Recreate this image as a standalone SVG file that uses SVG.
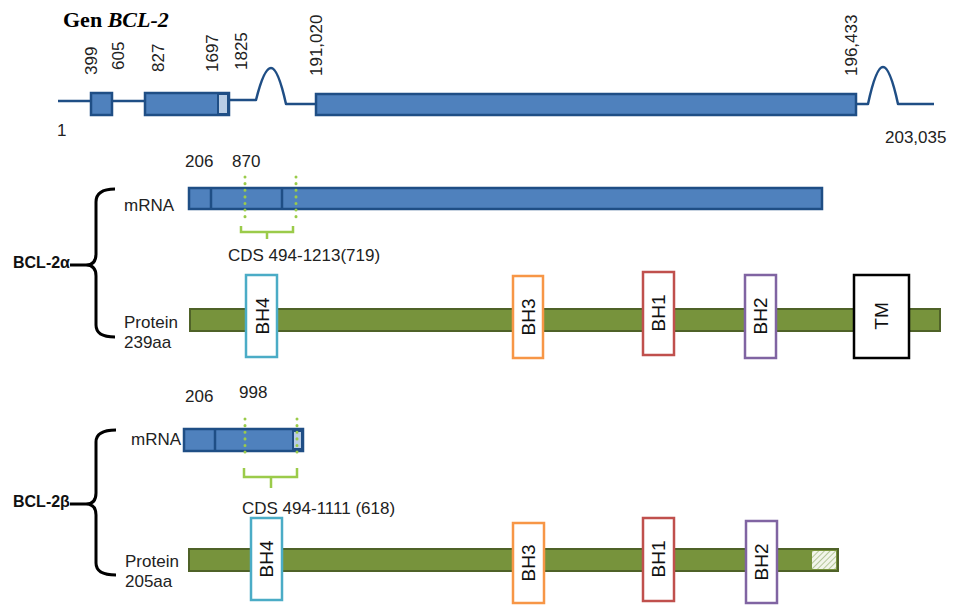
<svg xmlns="http://www.w3.org/2000/svg" width="954" height="605" viewBox="0 0 954 605">
<defs>
<style>
.t{font-family:"Liberation Sans",Arial,sans-serif;font-size:17px;fill:#222}
.title{font-family:"Liberation Serif","Times New Roman",serif;font-size:22px;font-weight:bold;fill:#000}
.iso{font-family:"Liberation Sans",Arial,sans-serif;font-size:16px;font-weight:bold;fill:#111}
.exon{fill:#4F81BD;stroke:#1F4E85;stroke-width:2.5}
.utr{fill:#B9CDE5;stroke:#1F4E85;stroke-width:2}
.div{stroke:#1F4E85;stroke-width:2.5}
.gl{fill:none;stroke:#1F4E85;stroke-width:2.5;stroke-linejoin:round}
.prot{fill:#77933C;stroke:#4F6228;stroke-width:2}
.dom{fill:#fff;stroke-width:2.5}
.dot{stroke:#9BCB4A;stroke-width:3;stroke-dasharray:0.1 6.5;stroke-linecap:round}
.cbr{fill:none;stroke:#9BCB4A;stroke-width:2.5}
.br{fill:none;stroke:#000;stroke-width:3}
.lab{font-family:"Liberation Sans",Arial,sans-serif;font-size:19px;fill:#111;text-anchor:middle;dominant-baseline:central}
</style>
<pattern id="hatch" width="4" height="4" patternUnits="userSpaceOnUse" patternTransform="rotate(45)">
<rect width="4" height="4" fill="#F2F5EA"/>
<line x1="0" y1="0" x2="0" y2="4" stroke="#B5C79A" stroke-width="2"/>
</pattern>
</defs>
<rect width="954" height="605" fill="#fff"/>

<g id="title"><text class="title" x="63" y="27">Gen <tspan font-style="italic">BCL-2</tspan></text></g>

<g id="gene">
<path class="gl" d="M58,101 L91,101 M112,101 L145,101 M229,100 L256,100 Q264,68 271,68 Q278,68 286,104 L316,104 M856,104 L868,104 Q876,67 883,67 Q890,67 898,104 L934,104"/>
<rect class="exon" x="91" y="93" width="21" height="22"/>
<rect class="exon" x="145" y="93" width="84" height="22"/>
<rect class="utr" x="218" y="94" width="10" height="20"/>
<rect class="exon" x="316" y="94" width="540" height="21"/>
<text class="t" transform="translate(97,75) rotate(-90)">399</text>
<text class="t" transform="translate(124,70) rotate(-90)">605</text>
<text class="t" transform="translate(164,72) rotate(-90)">827</text>
<text class="t" transform="translate(218,72) rotate(-90)">1697</text>
<text class="t" transform="translate(247,70) rotate(-90)">1825</text>
<text class="t" transform="translate(322,76) rotate(-90)">191,020</text>
<text class="t" transform="translate(857,76) rotate(-90)">196,433</text>
<text class="t" x="57" y="136">1</text>
<text class="t" x="885" y="143">203,035</text>
</g>

<g id="bcl2a">
<text class="iso" x="13" y="268">BCL-2α</text>
<path class="br" d="M70,265 L88,265 M115,189 Q96,189 96,202 L96,254 Q96,265 86,265 Q96,265 96,276 L96,325 Q96,337 115,337"/>
<text class="t" x="124" y="211">mRNA</text>
<rect class="exon" x="189" y="188" width="633" height="21"/>
<line class="div" x1="211" y1="188" x2="211" y2="209"/>
<line class="div" x1="282" y1="188" x2="282" y2="209"/>
<line class="dot" x1="245" y1="177" x2="245" y2="218"/>
<line class="dot" x1="296" y1="177" x2="296" y2="218"/>
<path class="cbr" d="M241,226 L241,232 L293,232 L293,226 M267,232 L267,239"/>
<text class="t" x="185" y="167">206</text>
<text class="t" x="232" y="167">870</text>
<text class="t" x="228" y="261">CDS 494-1213(719)</text>
<text class="t" x="124" y="328">Protein</text>
<text class="t" x="124" y="348">239aa</text>
<rect class="prot" x="190" y="309" width="750" height="22"/>
<g id="a-bh4"><rect class="dom" x="246" y="275" width="31" height="82" stroke="#4BACC6"/><text class="lab" transform="translate(262,316) rotate(-90)">BH4</text></g>
<g id="a-bh3"><rect class="dom" x="513" y="276" width="30" height="82" stroke="#F79646"/><text class="lab" transform="translate(528,317) rotate(-90)">BH3</text></g>
<g id="a-bh1"><rect class="dom" x="643" y="272" width="31" height="83" stroke="#C0504D"/><text class="lab" transform="translate(658,313) rotate(-90)">BH1</text></g>
<g id="a-bh2"><rect class="dom" x="745" y="275" width="31" height="83" stroke="#8064A2"/><text class="lab" transform="translate(760,316) rotate(-90)">BH2</text></g>
<g id="a-tm"><rect class="dom" x="854" y="275" width="55" height="83" stroke="#000"/><text class="lab" transform="translate(881,316) rotate(-90)">TM</text></g>
</g>

<g id="bcl2b">
<text class="iso" x="13" y="507">BCL-2β</text>
<path class="br" d="M70,504 L88,504 M116,430 Q96,430 96,442 L96,493 Q96,504 86,504 Q96,504 96,515 L96,563 Q96,575 116,575"/>
<text class="t" x="131" y="445">mRNA</text>
<rect class="exon" x="184" y="429" width="119" height="22"/>
<line class="div" x1="215" y1="429" x2="215" y2="451"/>
<rect class="utr" x="293" y="431" width="9" height="18"/>
<line class="dot" x1="245" y1="419" x2="245" y2="457"/>
<line class="dot" x1="297" y1="419" x2="297" y2="457"/>
<path class="cbr" d="M244,468 L244,477 L297,477 L297,468 M271,477 L271,488"/>
<text class="t" x="185" y="402">206</text>
<text class="t" x="239" y="398">998</text>
<text class="t" x="242" y="514">CDS 494-1111 (618)</text>
<text class="t" x="125" y="567">Protein</text>
<text class="t" x="125" y="587">205aa</text>
<rect class="prot" x="189" y="549" width="649" height="22"/>
<rect x="812" y="551" width="24" height="18" fill="url(#hatch)"/>
<g id="b-bh4"><rect class="dom" x="251" y="518" width="31" height="82" stroke="#4BACC6"/><text class="lab" transform="translate(266,559) rotate(-90)">BH4</text></g>
<g id="b-bh3"><rect class="dom" x="513" y="523" width="31" height="80" stroke="#F79646"/><text class="lab" transform="translate(528,563) rotate(-90)">BH3</text></g>
<g id="b-bh1"><rect class="dom" x="643" y="518" width="31" height="83" stroke="#C0504D"/><text class="lab" transform="translate(658,559) rotate(-90)">BH1</text></g>
<g id="b-bh2"><rect class="dom" x="746" y="521" width="31" height="82" stroke="#8064A2"/><text class="lab" transform="translate(761,562) rotate(-90)">BH2</text></g>
</g>
</svg>
